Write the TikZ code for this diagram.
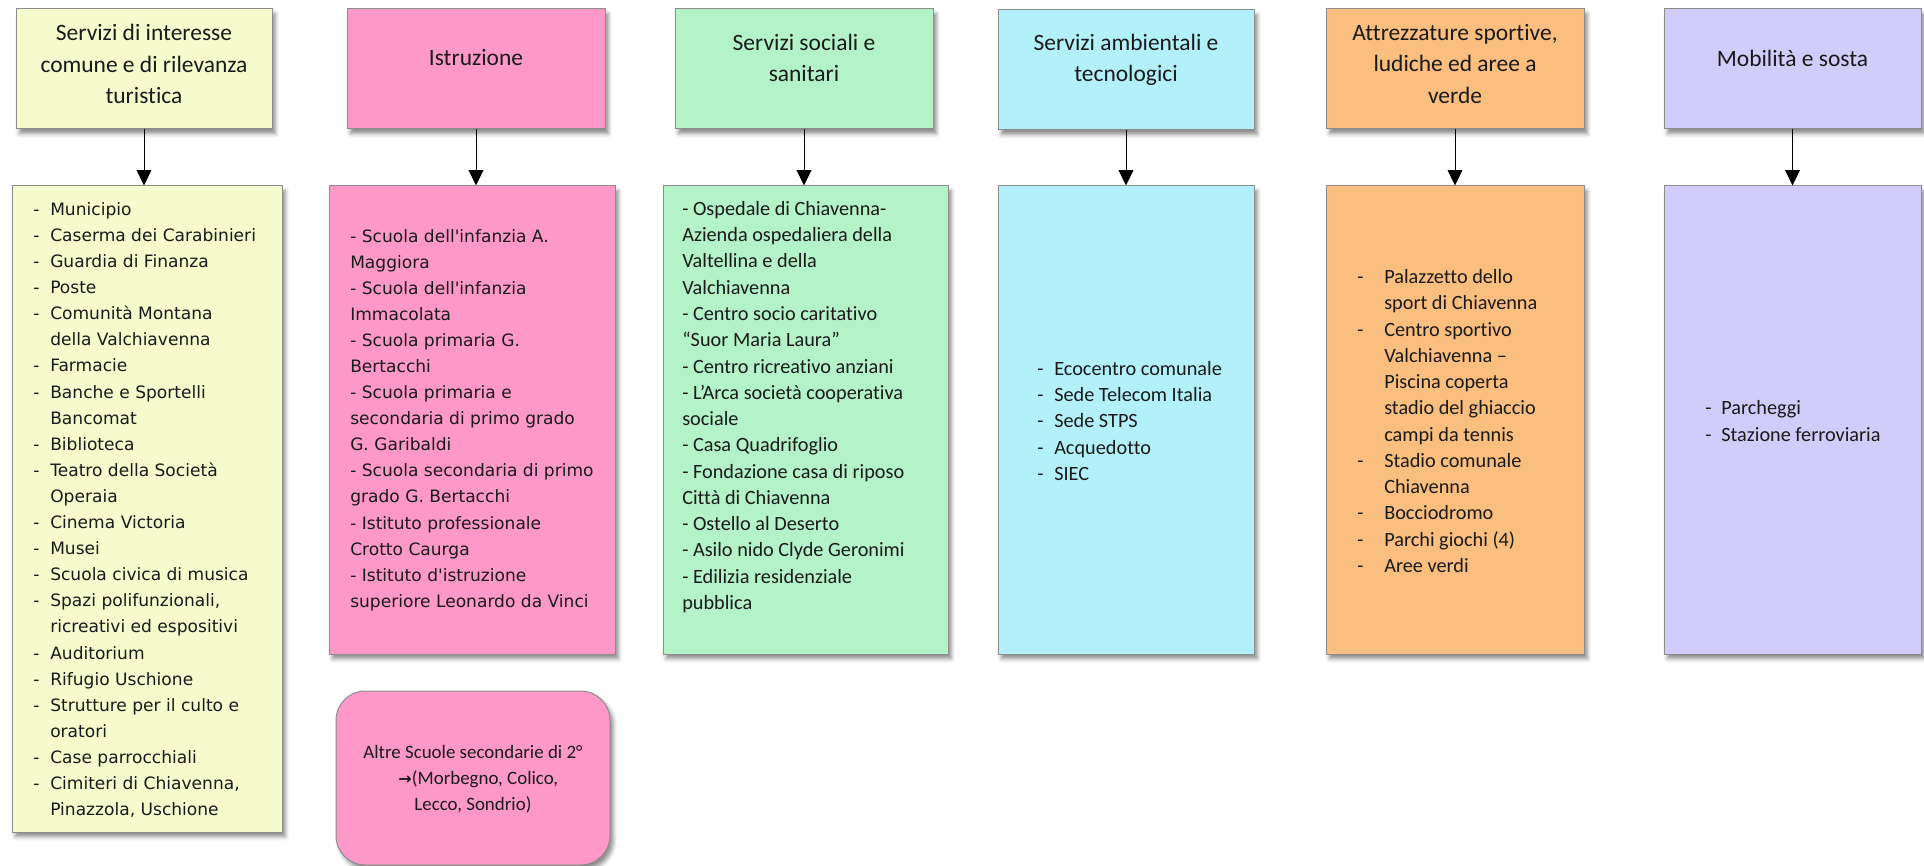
\documentclass[tikz,border=0pt]{standalone}
\usepackage{fontspec}
\setmainfont[Ligatures=NoCommon]{Carlito}
\newfontfamily\djv{DejaVu Sans}
\usetikzlibrary{arrows.meta,shadows.blur}
\definecolor{cyel}{HTML}{F5FBCD}
\definecolor{cpink}{HTML}{FD98C8}
\definecolor{cgreen}{HTML}{B4F2C8}
\definecolor{ccyan}{HTML}{B2F1FA}
\definecolor{corange}{HTML}{FABE7F}
\definecolor{clav}{HTML}{D1CCFA}
\definecolor{cborder}{HTML}{8C8C8C}
\definecolor{ctext}{HTML}{1A1A1A}
\newcommand\dsh[1]{\makebox[#1][l]{-}}
\newcommand\hind[1]{\hspace*{#1}}
\begin{document}
\begin{tikzpicture}[x=0.75pt,y=-0.75pt,
  box/.style={draw=cborder, line width=0.75pt, inner sep=0pt,
    blur shadow={shadow xshift=2.5pt, shadow yshift=-3.5pt, shadow blur radius=3pt, shadow opacity=45}},
  hd/.style={font=\fontsize{17.6}{23.5}\selectfont, align=center, text=ctext, inner sep=0pt},
  lst/.style={anchor=west, align=left, inner sep=0pt, text=ctext},
  vlst/.style={lst, font=\djv\fontsize{12.8}{19.57}\selectfont},
  clst/.style={lst, font=\fontsize{15.2}{19.7}\selectfont},
  arr/.style={line width=0.75pt, -{Triangle[width=11pt,length=11.5pt]}}]
\useasboundingbox (0,0) rectangle (1924,866);
% top boxes
\node[box, fill=cyel,    minimum width=192pt,   minimum height=90pt] (t1) at (144,69) {};
\node[box, fill=cpink,   minimum width=193.5pt, minimum height=90pt] (t2) at (476,69) {};
\node[box, fill=cgreen,  minimum width=193.5pt, minimum height=90pt] (t3) at (804,69) {};
\node[box, fill=ccyan,   minimum width=192pt,   minimum height=90pt] (t4) at (1126,70) {};
\node[box, fill=corange, minimum width=193.5pt, minimum height=90pt] (t5) at (1455,69) {};
\node[box, fill=clav,    minimum width=192.75pt,minimum height=90pt] (t6) at (1792.5,69) {};
% bottom boxes
\node[box, fill=cyel,    minimum width=202.5pt, minimum height=484.5pt] (b1) at (147,509) {};
\node[box, fill=cpink,   minimum width=214.5pt, minimum height=351pt] (b2) at (472,420) {};
\node[box, fill=cgreen,  minimum width=213.75pt,minimum height=351pt] (b3) at (805.5,420) {};
\node[box, fill=ccyan,   minimum width=192pt,   minimum height=351pt] (b4) at (1126,420) {};
\node[box, fill=corange, minimum width=193.5pt, minimum height=351pt] (b5) at (1455,420) {};
\node[box, fill=clav,    minimum width=192.75pt,minimum height=351pt] (b6) at (1792.5,420) {};
\node[box, fill=cpink, rounded corners=22pt, minimum width=205.5pt, minimum height=130.5pt] (other) at (473,778) {};
% header texts
\node[hd] (h1) at (144,64) {Servizi di interesse\\comune e di rilevanza\\turistica};
\node[hd] (h2) at (476,58) {Istruzione};
\node[hd] (h3) at (804,58) {Servizi sociali e\\sanitari};
\node[hd] (h4) at (1126,60) {Servizi ambientali e\\tecnologici};
\node[hd] (h5) at (1455,64) {Attrezzature sportive,\\ludiche ed aree a\\verde};
\node[hd] (h6) at (1792.5,58) {Mobilità e sosta};
% list texts
\node[vlst] (l1) at (33,510) {\dsh{12.75pt}Municipio\\
\dsh{12.75pt}Caserma dei Carabinieri\\
\dsh{12.75pt}Guardia di Finanza\\
\dsh{12.75pt}Poste\\
\dsh{12.75pt}Comunità Montana\\
\hind{12.75pt}della Valchiavenna\\
\dsh{12.75pt}Farmacie\\
\dsh{12.75pt}Banche e Sportelli\\
\hind{12.75pt}Bancomat\\
\dsh{12.75pt}Biblioteca\\
\dsh{12.75pt}Teatro della Società\\
\hind{12.75pt}Operaia\\
\dsh{12.75pt}Cinema Victoria\\
\dsh{12.75pt}Musei\\
\dsh{12.75pt}Scuola civica di musica\\
\dsh{12.75pt}Spazi polifunzionali,\\
\hind{12.75pt}ricreativi ed espositivi\\
\dsh{12.75pt}Auditorium\\
\dsh{12.75pt}Rifugio Uschione\\
\dsh{12.75pt}Strutture per il culto e\\
\hind{12.75pt}oratori\\
\dsh{12.75pt}Case parrocchiali\\
\dsh{12.75pt}Cimiteri di Chiavenna,\\
\hind{12.75pt}Pinazzola, Uschione};
\node[vlst] (l2) at (350,420) {- Scuola dell'infanzia A.\\
Maggiora\\
- Scuola dell'infanzia\\
Immacolata\\
- Scuola primaria G.\\
Bertacchi\\
- Scuola primaria e\\
secondaria di primo grado\\
G. Garibaldi\\
- Scuola secondaria di primo\\
grado G. Bertacchi\\
- Istituto professionale\\
Crotto Caurga\\
- Istituto d'istruzione\\
superiore Leonardo da Vinci};
\node[clst] (l3) at (682,407) {- Ospedale di Chiavenna-\\
Azienda ospedaliera della\\
Valtellina e della\\
Valchiavenna\\
- Centro socio caritativo\\
“Suor Maria Laura”\\
- Centro ricreativo anziani\\
- L’Arca società cooperativa\\
sociale\\
- Casa Quadrifoglio\\
- Fondazione casa di riposo\\
Città di Chiavenna\\
- Ostello al Deserto\\
- Asilo nido Clyde Geronimi\\
- Edilizia residenziale\\
pubblica};
\node[clst] (l4) at (1037,421) {\dsh{12.75pt}Ecocentro comunale\\
\dsh{12.75pt}Sede Telecom Italia\\
\dsh{12.75pt}Sede STPS\\
\dsh{12.75pt}Acquedotto\\
\dsh{12.75pt}SIEC};
\node[clst] (l5) at (1357,421) {\dsh{20.25pt}Palazzetto dello\\
\hind{20.25pt}sport di Chiavenna\\
\dsh{20.25pt}Centro sportivo\\
\hind{20.25pt}Valchiavenna –\\
\hind{20.25pt}Piscina coperta\\
\hind{20.25pt}stadio del ghiaccio\\
\hind{20.25pt}campi da tennis\\
\dsh{20.25pt}Stadio comunale\\
\hind{20.25pt}Chiavenna\\
\dsh{20.25pt}Bocciodromo\\
\dsh{20.25pt}Parchi giochi (4)\\
\dsh{20.25pt}Aree verdi};
\node[clst] (l6) at (1705,421) {\dsh{12pt}Parcheggi\\
\dsh{12pt}Stazione ferroviaria};
\node[align=center, inner sep=0pt, text=ctext, font=\fontsize{14.2}{19.6}\selectfont] (ot) at (473,779)
  {Altre Scuole secondarie di 2°\\\hspace*{8pt}{\djv\bfseries\fontsize{12}{19.6}\selectfont →}(Morbegno, Colico,\\Lecco, Sondrio)};
% arrows
\draw[arr] (t1.south) -- (t1.south |- b1.north);
\draw[arr] (t2.south) -- (t2.south |- b2.north);
\draw[arr] (t3.south) -- (t3.south |- b3.north);
\draw[arr] (t4.south) -- (t4.south |- b4.north);
\draw[arr] (t5.south) -- (t5.south |- b5.north);
\draw[arr] (t6.south) -- (t6.south |- b6.north);
\end{tikzpicture}
\end{document}
